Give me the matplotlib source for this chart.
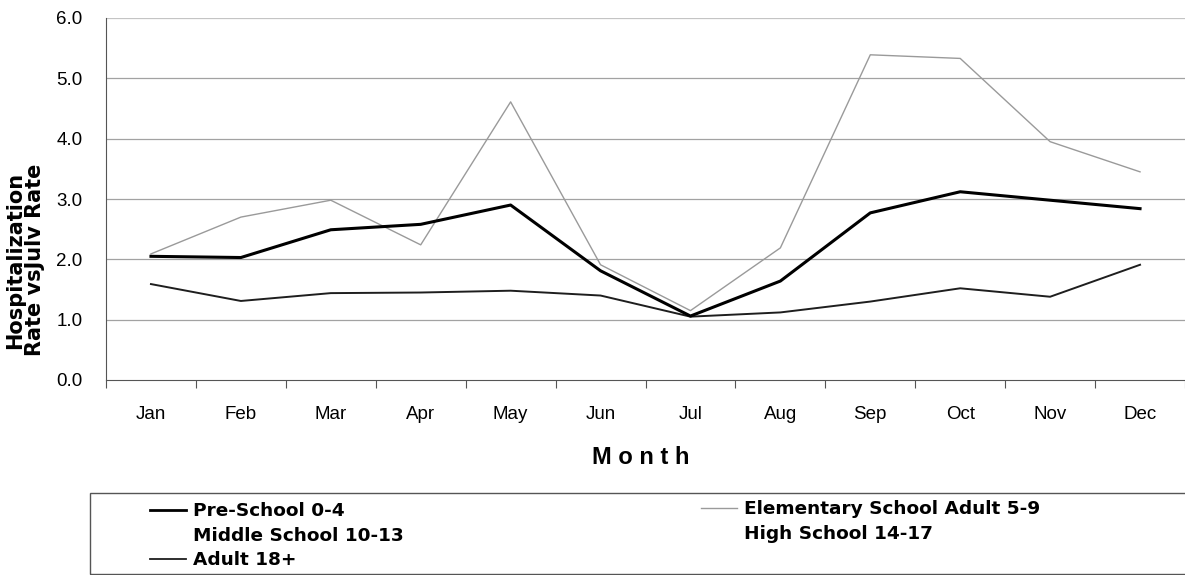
import matplotlib
matplotlib.use("Agg")
import matplotlib.pyplot as plt
from matplotlib.lines import Line2D
from matplotlib.patches import Rectangle
from matplotlib.ticker import FixedLocator, FuncFormatter

months = ["Jan", "Feb", "Mar", "Apr", "May", "Jun", "Jul", "Aug", "Sep", "Oct", "Nov", "Dec"]
preschool = [2.05, 2.03, 2.49, 2.58, 2.90, 1.81, 1.06, 1.64, 2.77, 3.12, 2.98, 2.84]
elementary = [2.09, 2.70, 2.98, 2.24, 4.61, 1.91, 1.15, 2.19, 5.39, 5.33, 3.95, 3.45]
adult = [1.59, 1.31, 1.44, 1.45, 1.48, 1.40, 1.05, 1.12, 1.30, 1.52, 1.38, 1.91]
yticks = [0.0, 1.0, 2.0, 3.0, 4.0, 5.0, 6.0]

legend_col1 = ["Pre-School 0-4", "Middle School 10-13", "Adult 18+"]
legend_col2 = ["Elementary School Adult 5-9", "High School 14-17"]

W, H = 1185, 575
fig = plt.figure(figsize=(W / 100, H / 100), dpi=100)
ax = fig.add_axes([106 / W, 1 - 380 / H, 1.0 - 106 / W, (380 - 18) / H])

tickfont = ["Liberation Sans", "DejaVu Sans"]

x = list(range(len(months)))
ax.set_xlim(-0.5, len(months) - 0.5)
ax.set_ylim(0, 6)

for y in yticks[1:]:
    ax.axhline(y, color="#a2a2a2" if y < 6 else "#c4c4c4", lw=0.9, zorder=1)

ax.plot(x, elementary, color="#9a9a9a", lw=1.0, zorder=3)
ax.plot(x, adult, color="#1e1e1e", lw=1.4, zorder=4)
ax.plot(x, preschool, color="#000000", lw=2.2, zorder=5)

for s in ["top", "right"]:
    ax.spines[s].set_visible(False)
ax.spines["left"].set_color("#555555")
ax.spines["bottom"].set_color("#555555")

ax.xaxis.set_major_locator(FixedLocator([i - 0.5 for i in range(len(months) + 1)]))
ax.xaxis.set_minor_locator(FixedLocator(x))
ax.xaxis.set_major_formatter(FuncFormatter(lambda v, p: ""))
ax.xaxis.set_minor_formatter(FuncFormatter(lambda v, p: months[int(round(v))]))
ax.tick_params(axis="x", which="major", length=6, color="#555555", direction="out")
ax.tick_params(axis="x", which="minor", length=0, pad=19)
for lab in ax.get_xticklabels(minor=True):
    lab.set_fontfamily(tickfont)
    lab.set_fontsize(13.5)

ax.set_yticks(yticks)
ax.yaxis.set_major_formatter(FuncFormatter(lambda v, p: f"{v:.1f}"))
ax.tick_params(axis="y", length=0, pad=17)
for lab in ax.get_yticklabels():
    lab.set_fontfamily(tickfont)
    lab.set_fontsize(13.5)

fig.text(641 / W, 1 - 458 / H, "M o n t h", ha="center", va="center",
         fontsize=17, fontweight="bold", family=tickfont)

fig.text(25 / W, 1 - 260 / H, "Hospitalization\nRate vsJulv Rate", rotation=90,
         ha="center", va="center", multialignment="center",
         fontsize=15, fontweight="bold", family="DejaVu Sans", linespacing=1.0)

# legend frame
fig.add_artist(Rectangle((90 / W, 1 - 574 / H), (W + 10 - 90) / W, (574 - 493) / H,
                         transform=fig.transFigure, fill=False, edgecolor="#555555", lw=1.0))

h1 = [Line2D([], [], color="#000000", lw=2.0),
      Line2D([], [], color="none"),
      Line2D([], [], color="#1e1e1e", lw=1.3)]
h2 = [Line2D([], [], color="#9a9a9a", lw=1.0),
      Line2D([], [], color="none")]
lk = dict(frameon=False, loc="upper left", handlelength=1.95, handletextpad=0.38,
          labelspacing=0.36, borderpad=0, borderaxespad=0,
          prop={"family": "DejaVu Sans", "weight": "bold", "size": 13.3})
fig.legend(h1, legend_col1, bbox_to_anchor=(150 / W, 1 - 502 / H), **lk)
fig.legend(h2, legend_col2, bbox_to_anchor=(701 / W, 1 - 500 / H), **lk)

fig.savefig("out.png", dpi=100)
